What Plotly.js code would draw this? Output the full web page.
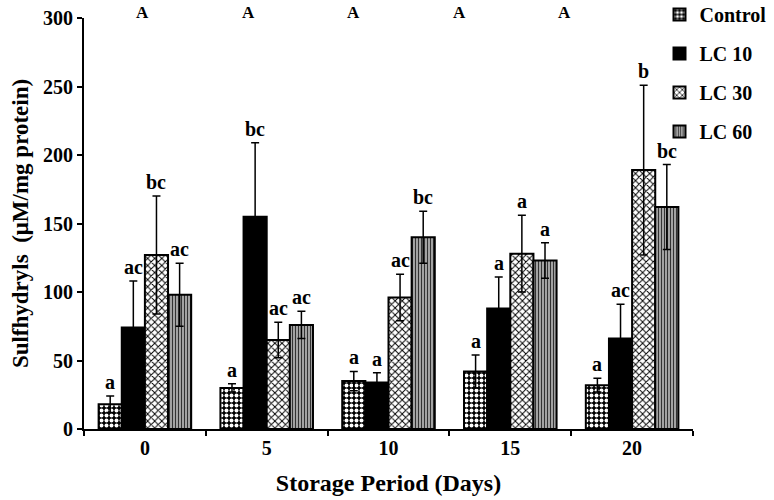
<!DOCTYPE html>
<html>
<head>
<meta charset="utf-8">
<script src="https://cdn.plot.ly/plotly-3.0.1.min.js"></script>
<style>html,body{margin:0;padding:0;background:#fff;}#chart{width:774px;height:500px;}</style>
</head>
<body>
<div id="chart"></div>
<script>
const days = ['0', '5', '10', '15', '20'];
const seriesNames = ['Control', 'LC 10', 'LC 30', 'LC 60'];
const controlVals = [18, 30, 35, 42, 32];
const controlErr  = [6, 3, 7, 12, 5];
const lc10Vals = [74, 155, 34, 88, 66];
const lc10Err  = [34, 54, 7, 23, 25];
const lc30Vals = [127, 65, 96, 128, 189];
const lc30Err  = [43, 13, 17, 28, 62];
const lc60Vals = [98, 76, 140, 123, 162];
const lc60Err  = [23, 10, 19, 13, 31];
const controlLetters = ['a', 'a', 'a', 'a', 'a'];
const lc10Letters = ['ac', 'bc', 'a', 'a', 'ac'];
const lc30Letters = ['bc', 'ac', 'ac', 'a', 'b'];
const lc60Letters = ['ac', 'ac', 'bc', 'a', 'bc'];
const groupLetters = ['A', 'A', 'A', 'A', 'A'];

const values = [controlVals, lc10Vals, lc30Vals, lc60Vals];
const errors = [controlErr, lc10Err, lc30Err, lc60Err];
const letters = [controlLetters, lc10Letters, lc30Letters, lc60Letters];

const patterns = [
  {shape: '.', bgcolor: '#000', fgcolor: '#fff', size: 5, solidity: 0.5},
  {shape: '', bgcolor: '#000', fgcolor: '#000'},
  {shape: 'x', bgcolor: '#fff', fgcolor: '#000', size: 5, solidity: 0.35},
  {shape: '|', bgcolor: '#bbb', fgcolor: '#333', size: 3, solidity: 0.45}
];
const colors = ['#000', '#000', '#fff', '#999'];

const font = 'Liberation Serif, Times New Roman, serif';
const traces = seriesNames.map((name, s) => ({
  type: 'bar',
  name: name,
  legendgroup: 'g' + s,
  x: days,
  y: values[s],
  marker: {color: colors[s], pattern: patterns[s], line: {color: '#000', width: 2}},
  error_y: {type: 'data', array: errors[s], visible: true, color: '#000', thickness: 1.5, width: 4}
}));

const bargap = 0.24;
const barW = (1 - bargap) / 4;
const annotations = [];
for (let s = 0; s < 4; s++) {
  for (let i = 0; i < days.length; i++) {
    annotations.push({
      x: i + (s - 1.5) * barW,
      y: values[s][i] + errors[s][i],
      xref: 'x', yref: 'y',
      text: '<b>' + letters[s][i] + '</b>',
      showarrow: false, yanchor: 'bottom', yshift: 1,
      font: {family: font, size: 20, color: '#000'}
    });
  }
}
for (let i = 0; i < days.length; i++) {
  annotations.push({
    x: i * 0.866 - 0.016,
    y: 1.0, xref: 'x', yref: 'paper',
    text: '<b>' + groupLetters[i] + '</b>',
    showarrow: false, yanchor: 'middle', yshift: 6,
    font: {family: font, size: 17, color: '#000'}
  });
}

const layout = {
  width: 774, height: 500,
  margin: {l: 84, r: 81, t: 18, b: 71, autoexpand: false},
  paper_bgcolor: '#fff', plot_bgcolor: '#fff',
  barmode: 'group', bargap: bargap, bargroupgap: 0,
  font: {family: font, color: '#000'},
  showlegend: true,
  legend: {
    x: 0.945, y: 1.056, xanchor: 'left', yanchor: 'top',
    font: {family: font, size: 20, color: '#000', weight: 'bold'},
    tracegroupgap: 10, itemwidth: 30, bgcolor: 'rgba(0,0,0,0)'
  },
  xaxis: {
    type: 'category', showline: true, linecolor: '#000', linewidth: 2,
    ticks: 'outside', tickson: 'boundaries', ticklen: 5, tickwidth: 2, tickcolor: '#000',
    showgrid: false, zeroline: false,
    tickfont: {family: font, size: 20, color: '#000', weight: 'bold'},
    title: {text: '<b>Storage Period (Days)</b>', font: {family: font, size: 24, color: '#000'}, standoff: 16}
  },
  yaxis: {
    range: [0, 300], dtick: 50, showline: true, linecolor: '#000', linewidth: 2,
    ticks: 'outside', ticklen: 5, tickwidth: 2, tickcolor: '#000',
    showgrid: false, zeroline: false,
    tickfont: {family: font, size: 20, color: '#000', weight: 'bold'},
    title: {text: '<b>Sulfhydryls  (μM/mg protein)</b>', font: {family: font, size: 23, color: '#000'}, standoff: 8}
  },
  annotations: annotations
};

Plotly.newPlot('chart', traces, layout, {displayModeBar: false});
</script>
</body>
</html>
